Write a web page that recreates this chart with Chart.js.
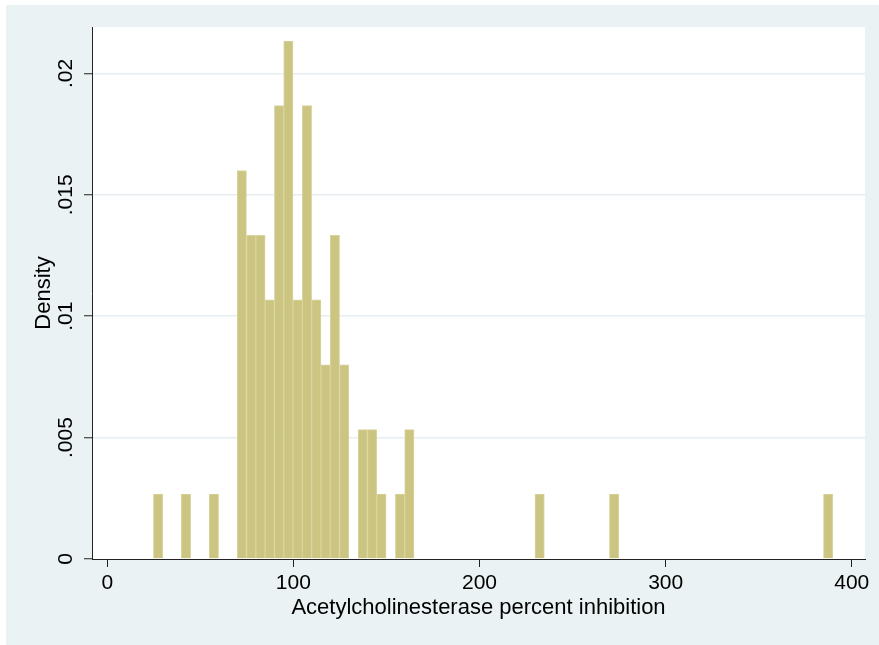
<!DOCTYPE html>
<html><head><meta charset="utf-8">
<script src="https://cdn.jsdelivr.net/npm/chart.js@4.4.0/dist/chart.umd.min.js"></script>
<style>html,body{margin:0;padding:0;background:#fff;} #wrap{width:879px;height:645px;}</style>
</head><body><div id="wrap"><canvas id="c" width="879" height="645"></canvas></div>
<script>
// Histogram bins (bin width 5), centers and density heights
const binCenters = [27.3, 42.3, 57.3, 72.3, 77.3, 82.3, 87.3, 92.3, 97.3, 102.3, 107.3, 112.3, 117.3, 122.3, 127.3, 137.3, 142.3, 147.3, 157.3, 162.3, 232.3, 272.3, 387.3];
const densities = [0.00267, 0.00267, 0.00267, 0.016, 0.01333, 0.01333, 0.01067, 0.01867, 0.02133, 0.01067, 0.01867, 0.01067, 0.008, 0.01333, 0.008, 0.00533, 0.00533, 0.00267, 0.00267, 0.00533, 0.00267, 0.00267, 0.00267];
const xTicks = [0, 100, 200, 300, 400];
const xTickLabels = ['0', '100', '200', '300', '400'];
const yTicks = [0, 0.005, 0.01, 0.015, 0.02];
const yTickLabels = ['0', '.005', '.01', '.015', '.02'];
const xTitle = 'Acetylcholinesterase percent inhibition';
const yTitle = 'Density';

const FONT = "'Liberation Sans', Arial, Helvetica, sans-serif";

const bgPlugin = {
  id: 'bg',
  beforeDraw(chart) {
    const ctx = chart.ctx, a = chart.chartArea;
    ctx.save();
    ctx.fillStyle = '#ffffff';
    ctx.fillRect(0, 0, chart.width, chart.height);
    ctx.fillStyle = '#eaf2f3';
    ctx.fillRect(6, 5, chart.width - 6, chart.height - 5);
    ctx.fillStyle = '#ffffff';
    ctx.fillRect(a.left, a.top, a.right - a.left, a.bottom - a.top);
    ctx.restore();
  }
};

new Chart(document.getElementById('c'), {
  type: 'bar',
  data: {
    datasets: [{
      data: binCenters.map((x, i) => ({ x: x, y: densities[i] })),
      backgroundColor: '#cbc581',
      borderColor: '#d9d49e',
      borderWidth: 1,
      barPercentage: 1,
      categoryPercentage: 1
    }]
  },
  options: {
    responsive: false,
    devicePixelRatio: 1,
    animation: false,
    layout: { padding: { left: 0, top: 27, right: 14, bottom: 0 } },
    plugins: { legend: { display: false }, tooltip: { enabled: false } },
    scales: {
      x: {
        type: 'linear',
        offset: false,
        min: -8.2,
        max: 407.1,
        afterBuildTicks: s => { s.ticks = xTicks.map(v => ({ value: v })); },
        afterFit: s => { s.height = 86; },
        grid: { offset: false, drawOnChartArea: false, drawTicks: true, tickLength: 8, tickColor: '#222', tickWidth: 1 },
        border: { display: true, color: '#222', width: 1 },
        ticks: {
          color: '#000', font: { family: FONT, size: 21 }, padding: 4,
          maxRotation: 0, minRotation: 0,
          callback: (v) => xTickLabels[xTicks.indexOf(v)]
        },
        title: { display: true, text: xTitle, color: '#000', font: { family: FONT, size: 22 }, padding: { top: 0, bottom: 24 } }
      },
      y: {
        type: 'linear',
        min: 0,
        max: 0.02191,
        afterBuildTicks: s => { s.ticks = yTicks.map(v => ({ value: v })); },
        afterFit: s => { s.width = 92; },
        grid: {
          drawOnChartArea: true, drawTicks: true, tickLength: 8, tickWidth: 1, tickColor: '#222',
          color: c => (c.tick && c.tick.value === 0) ? 'rgba(0,0,0,0)' : '#e6eef1',
          lineWidth: 1.5
        },
        border: { display: true, color: '#222', width: 1 },
        ticks: {
          color: '#000', font: { family: FONT, size: 21 }, padding: -3,
          minRotation: 90, maxRotation: 90, crossAlign: 'center',
          callback: (v) => yTickLabels[yTicks.indexOf(v)]
        },
        title: { display: true, text: yTitle, color: '#000', font: { family: FONT, size: 22 }, padding: { top: 31, bottom: 0 } }
      }
    }
  },
  plugins: [bgPlugin]
});
</script>
</body></html>
